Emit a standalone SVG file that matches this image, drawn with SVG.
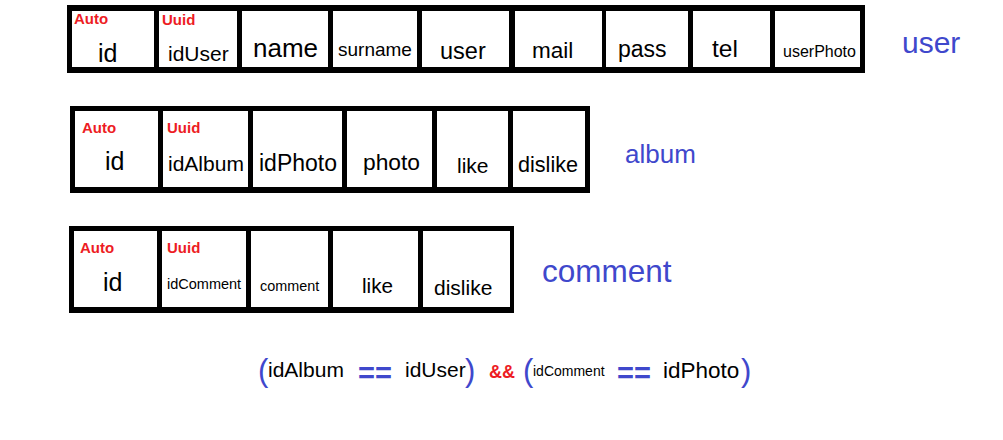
<svg xmlns="http://www.w3.org/2000/svg" width="1003" height="440" viewBox="0 0 1003 440">
<style>
.frame{fill:#000}
.cell{fill:#fff}
.t{font-family:"Liberation Sans",Arial,sans-serif;fill:#000}
.tag{font-family:"Liberation Sans",Arial,sans-serif;font-weight:bold;font-size:15px;fill:#ED1C24}
.title{font-family:"Liberation Sans",Arial,sans-serif;fill:#3F48CC}
.op{font-family:"Liberation Sans",Arial,sans-serif;fill:#3F48CC;font-weight:bold}
</style>
<rect x="0" y="0" width="1003" height="440" fill="#fff"/>
<g id="table-user">
<rect class="frame" x="67" y="5" width="798" height="68"/>
<g id="user-id"><rect class="cell" x="72" y="11" width="82" height="56"/><text class="tag" x="74" y="24">Auto</text><text class="t" x="98" y="62" font-size="25">id</text></g>
<g id="user-idUser"><rect class="cell" x="159" y="11" width="78" height="56"/><text class="tag" x="162" y="25">Uuid</text><text class="t" x="168" y="61" font-size="21">idUser</text></g>
<g id="user-name"><rect class="cell" x="242" y="11" width="86" height="56"/><text class="t" x="253" y="57" font-size="26">name</text></g>
<g id="user-surname"><rect class="cell" x="333" y="11" width="84" height="56"/><text class="t" x="338" y="56" font-size="19">surname</text></g>
<g id="user-user"><rect class="cell" x="422" y="11" width="87" height="56"/><text class="t" x="440" y="59" font-size="23.5">user</text></g>
<g id="user-mail"><rect class="cell" x="515" y="11" width="87" height="56"/><text class="t" x="532" y="58" font-size="22.5">mail</text></g>
<g id="user-pass"><rect class="cell" x="606" y="11" width="82" height="56"/><text class="t" x="618" y="57" font-size="23">pass</text></g>
<g id="user-tel"><rect class="cell" x="693" y="11" width="77" height="56"/><text class="t" x="712" y="57" font-size="24.5">tel</text></g>
<g id="user-userPhoto"><rect class="cell" x="775" y="11" width="85" height="56"/><text class="t" x="783" y="57" font-size="16">userPhoto</text></g>
</g>
<text id="title-user" class="title" x="902" y="53" font-size="30">user</text>
<g id="table-album">
<rect class="frame" x="70" y="106" width="520" height="87"/>
<g id="album-id"><rect class="cell" x="75" y="111" width="83" height="76"/><text class="tag" x="82" y="133">Auto</text><text class="t" x="105" y="170" font-size="25">id</text></g>
<g id="album-idAlbum"><rect class="cell" x="163" y="111" width="85" height="76"/><text class="tag" x="167" y="133">Uuid</text><text class="t" x="168" y="171" font-size="21">idAlbum</text></g>
<g id="album-idPhoto"><rect class="cell" x="253" y="111" width="89" height="76"/><text class="t" x="259" y="171" font-size="23">idPhoto</text></g>
<g id="album-photo"><rect class="cell" x="347" y="111" width="85" height="76"/><text class="t" x="363" y="170" font-size="22.8">photo</text></g>
<g id="album-like"><rect class="cell" x="437" y="111" width="71" height="76"/><text class="t" x="457" y="173" font-size="21">like</text></g>
<g id="album-dislike"><rect class="cell" x="513" y="111" width="72" height="76"/><text class="t" x="518" y="172" font-size="21.6">dislike</text></g>
</g>
<text id="title-album" class="title" x="625" y="163" font-size="26">album</text>
<g id="table-comment">
<rect class="frame" x="69" y="226" width="445" height="87"/>
<g id="comment-id"><rect class="cell" x="74" y="231" width="83" height="76"/><text class="tag" x="80" y="253">Auto</text><text class="t" x="103" y="291" font-size="25">id</text></g>
<g id="comment-idComment"><rect class="cell" x="162" y="231" width="84" height="76"/><text class="tag" x="167" y="253">Uuid</text><text class="t" x="167" y="289" font-size="14.5">idComment</text></g>
<g id="comment-comment"><rect class="cell" x="251" y="231" width="77" height="76"/><text class="t" x="260" y="291" font-size="14.4">comment</text></g>
<g id="comment-like"><rect class="cell" x="333" y="231" width="85" height="76"/><text class="t" x="362" y="293" font-size="20.7">like</text></g>
<g id="comment-dislike"><rect class="cell" x="423" y="231" width="87" height="76"/><text class="t" x="434" y="295" font-size="21">dislike</text></g>
</g>
<text id="title-comment" class="title" x="542" y="282" font-size="31.5">comment</text>
<g id="expression">
<text class="title" x="258" y="381" font-size="31">(</text>
<text class="t" x="268" y="377" font-size="21">idAlbum</text>
<text class="op" x="358" y="383" font-size="29">==</text>
<text class="t" x="405" y="377" font-size="21">idUser</text>
<text class="title" x="465" y="381" font-size="31">)</text>
<text class="tag" x="489" y="378" font-size="18" style="font-size:18px">&amp;&amp;</text>
<text class="title" x="523" y="381" font-size="31">(</text>
<text class="t" x="533" y="376" font-size="14">idComment</text>
<text class="op" x="617" y="383" font-size="29">==</text>
<text class="t" x="663" y="378" font-size="22.5">idPhoto</text>
<text class="title" x="741" y="381" font-size="31">)</text>
</g>
</svg>
